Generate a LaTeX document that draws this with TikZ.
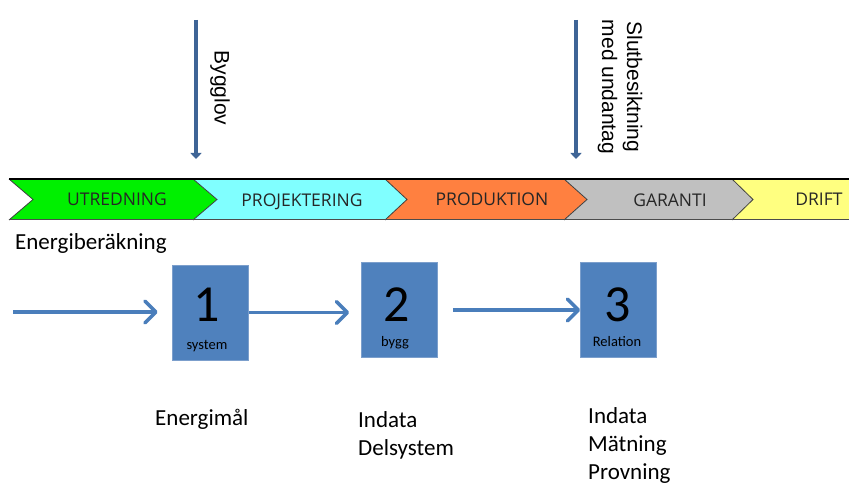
\documentclass[tikz,border=0pt]{standalone}
\usepackage{fontspec}
\setmainfont{Carlito}
\newfontfamily\arialfont{Liberation Sans}
\newfontfamily\bannerfont{Open Sans}
\usetikzlibrary{arrows.meta, positioning}
\definecolor{boxblue}{HTML}{4F81BD}
\definecolor{boxedge}{HTML}{7C9FCC}
\definecolor{flowblue}{HTML}{4A7EBB}
\definecolor{markblue}{HTML}{3E6496}
\definecolor{fasgreen}{HTML}{00F000}
\definecolor{fascyan}{HTML}{80FFFF}
\definecolor{fasorange}{HTML}{FF8040}
\definecolor{fasgray}{HTML}{C0C0C0}
\definecolor{fasyellow}{HTML}{FFFF80}

\begin{document}
\begin{tikzpicture}[x=1pt, y=-1pt,
    fas/.style={draw=black!75, line width=0.8pt},
    fastext/.style={font=\bannerfont\fontsize{17.5}{18}\selectfont, text=black!85, anchor=base, inner sep=0pt},
    numbox/.style={fill=boxblue, draw=boxedge, line width=0.6pt, minimum width=76pt, minimum height=95pt, inner sep=0pt},
    numtxt/.style={font=\fontsize{52}{52}\selectfont, inner sep=0pt},
    subtxt/.style={font=\fontsize{14.5}{15}\selectfont, inner sep=0pt},
    flow/.style={draw=flowblue, line width=3.5pt, -{Straight Barb[length=11pt, width=22pt, round]}},
    milestone/.style={draw=markblue, line width=3.5pt, -{Triangle[length=6pt, width=11pt]}},
    marktxt/.style={font=\arialfont\fontsize{21}{25}\selectfont, rotate=-90, align=center, inner sep=0pt},
    note/.style={font=\fontsize{23}{28}\selectfont, align=left, inner sep=0pt}]
    \useasboundingbox (0,0) rectangle (849,489);

    \fill[fasgreen] (9,179) -- (193,179) -- (217,199.5) -- (193,220) -- (9,220) -- (33,199.5) -- cycle;
    \fill[fascyan] (193,179) -- (385,179) -- (407,199.5) -- (385,220) -- (193,220) -- (217,199.5) -- cycle;
    \fill[fasorange] (385,179) -- (564,179) -- (587,199.5) -- (564,220) -- (385,220) -- (407,199.5) -- cycle;
    \fill[fasgray] (564,179) -- (732,179) -- (753,199.5) -- (732,220) -- (564,220) -- (587,199.5) -- cycle;
    \fill[fasyellow] (732,179) -- (849,179) -- (849,220) -- (732,220) -- (753,199.5) -- cycle;
    \draw[fas] (9,179) -- (33,199.5) -- (9,220);
    \draw[fas] (193,179) -- (217,199.5) -- (193,220);
    \draw[fas] (385,179) -- (407,199.5) -- (385,220);
    \draw[fas] (564,179) -- (587,199.5) -- (564,220);
    \draw[fas] (732,179) -- (753,199.5) -- (732,220);
    \draw[black, line width=1.3pt] (9,179) -- (849,179);
    \draw[black!70, line width=1pt] (9,220) -- (849,220);

    \node[fastext] (f1) at (117,205.5) {UTREDNING};
    \node[fastext] (f2) at (302,206.5) {PROJEKTERING};
    \node[fastext] (f3) at (492,205.5) {PRODUKTION};
    \node[fastext] (f4) at (670,206.5) {GARANTI};
    \node[fastext] (f5) at (819,205.5) {DRIFT};

    \coordinate (bgtop) at (196,20);
    \coordinate (bgend) at (196,159);
    \draw[milestone] (bgtop) -- (bgend);
    \node[marktxt] (bygglov) at (220,88) {Bygglov};

    \coordinate (sbtop) at (576,20);
    \coordinate (sbend) at (576,159);
    \draw[milestone] (sbtop) -- (sbend);
    \node[marktxt] (slutbes) at (620,87) {Slutbesiktning\\med undantag};

    \node[note, anchor=west] (ber) at (15,243) {Energiberäkning};

    \node[numbox] (b1) at (210,312.5) {};
    \node[numbox] (b2) at (399.5,310) {};
    \node[numbox] (b3) at (618.5,310) {};
    \node[numtxt] (n1) at (207,305) {1};
    \node[numtxt] (n2) at (397,305) {2};
    \node[numtxt] (n3) at (618,305) {3};
    \node[subtxt] (s1) at (207,346) {system};
    \node[subtxt] (s2) at (395,343) {bygg};
    \node[subtxt] (s3) at (617,342) {Relation};

    \coordinate (start) at (13,312);
    \draw[flow, shorten >=14pt] (start) -- (b1.west |- start);
    \draw[flow, shorten <=1pt, shorten >=12pt] (b1.east) -- (b2.west |- b1.east);
    \draw[flow, shorten <=15pt] (b2.east) -- (b3.west);

    \node[note, anchor=north west] (m1) at (155,409) {Energimål};
    \node[note, anchor=north west] (m2) at (358,411) {Indata\\Delsystem};
    \node[note, anchor=north west] (m3) at (588,407) {Indata\\Mätning\\Provning};
\end{tikzpicture}
\end{document}
